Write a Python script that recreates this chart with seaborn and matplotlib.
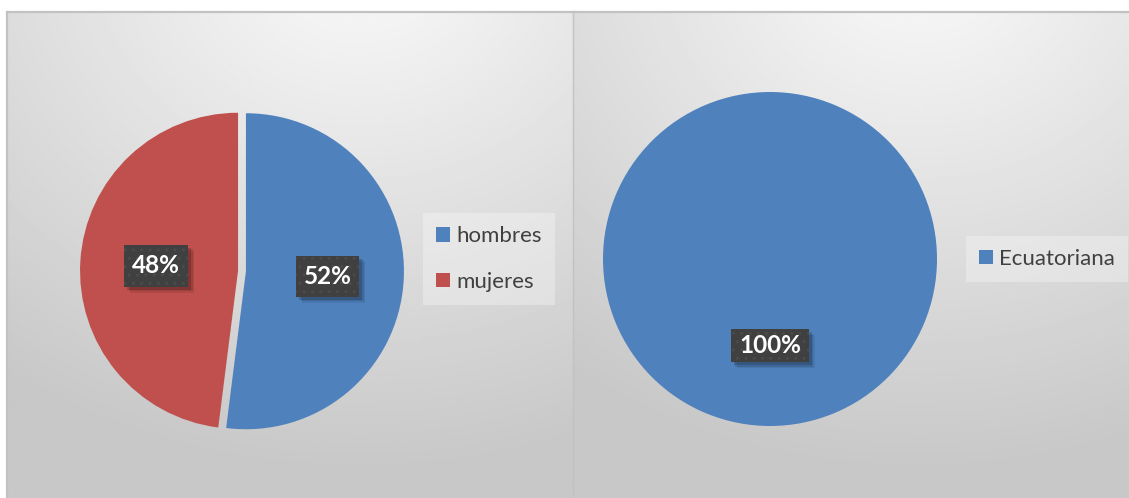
import numpy as np
import matplotlib
matplotlib.use("Agg")
import matplotlib.pyplot as plt
import seaborn as sns
from matplotlib.patches import Patch, Rectangle
from matplotlib.transforms import ScaledTranslation

# Distribution by sex and by nationality (percent)
sexo = ["hombres", "mujeres"]
sexo_pct = [52, 48]
nacionalidad = ["Ecuatoriana"]
nacionalidad_pct = [100]

sns.set_theme(style="white")
plt.rcParams["font.family"] = ["Lato", "DejaVu Sans"]

palette = {"hombres": "#4F81BD", "mujeres": "#C0504D", "Ecuatoriana": "#4F81BD"}
TEXT_GRAY = "#404040"
BORDER = "#c2c2c2"

W, H = 1129, 498
fig = plt.figure(figsize=(W / 100, H / 100), dpi=100)
fig.patch.set_facecolor("white")


def px_axes(x0, y_top, w, h, **kw):
    """Axes placed with pixel coordinates measured from the top-left corner."""
    return fig.add_axes([x0 / W, (H - y_top - h) / H, w / W, h / H], **kw)


def panel(x0, x1, left_lw):
    ax = px_axes(x0, 12, x1 - x0, H - 12)
    u = np.linspace(0, 1, 400)
    v = np.linspace(0, 1, 300)
    U, V = np.meshgrid(u, v)
    d = np.sqrt((U - 0.62) ** 2 + (V + 0.12) ** 2)
    shade = np.clip(0.98 - 0.185 * d, 0.785, 1.0)
    ax.imshow(shade, cmap="gray", vmin=0, vmax=1, aspect="auto",
              interpolation="bilinear")
    ax.set_xticks([])
    ax.set_yticks([])
    for side in ("right", "bottom"):
        ax.spines[side].set_visible(False)
    ax.spines["top"].set_color(BORDER)
    ax.spines["top"].set_linewidth(1.6)
    ax.spines["left"].set_color(BORDER)
    ax.spines["left"].set_linewidth(left_lw)
    return ax


def pie_axes(cx, cy, r, lim=1.2):
    s = 2 * lim * r
    return px_axes(cx - s / 2, cy - s / 2, s, s)


def label_boxes(ax, texts, sizes):
    """Dark textured box with a soft drop shadow behind each percentage."""
    for t, (bw, bh) in zip(texts, sizes):
        x, y = t.get_position()
        base = fig.dpi_scale_trans + ScaledTranslation(x, y, ax.transData)
        wi, hi = bw / 100, bh / 100
        for k, a in ((0.06, 0.08), (0.045, 0.12), (0.03, 0.16)):
            ax.add_patch(Rectangle((-wi / 2 + k, -hi / 2 - k), wi, hi,
                                   transform=base, facecolor="black", alpha=a,
                                   lw=0, zorder=3, clip_on=False))
        ax.add_patch(Rectangle((-wi / 2, -hi / 2), wi, hi, transform=base,
                               facecolor="#404040", edgecolor="#4b4b4b",
                               hatch="..", lw=0, zorder=4, clip_on=False))
        t.set_zorder(5)


def draw_pie(ax, labels, values, explode, box_sizes, lim=1.2):
    wedges, _, autotexts = ax.pie(
        values,
        colors=[palette[k] for k in labels],
        startangle=90,
        counterclock=False,
        explode=explode,
        autopct=lambda p: f"{p:.0f}%",
        pctdistance=0.52,
        wedgeprops=dict(linewidth=0),
        textprops=dict(color="white", fontsize=17.5, fontweight="bold"),
    )
    for w in wedges:
        w.set_clip_on(False)
    ax.set_xlim(-lim, lim)
    ax.set_ylim(-lim, lim)
    ax.set_aspect("equal")
    ax.axis("off")
    label_boxes(ax, autotexts, box_sizes)


def add_legend(labels, x_left, y_center):
    handles = [Patch(facecolor=palette[k], edgecolor="none", label=k) for k in labels]
    return fig.legend(
        handles=handles,
        loc="center left",
        bbox_to_anchor=(x_left / W, 1 - y_center / H),
        bbox_transform=fig.transFigure,
        borderaxespad=0,
        fontsize=16,
        labelcolor=TEXT_GRAY,
        handlelength=0.62,
        handleheight=0.62,
        handletextpad=0.3,
        labelspacing=1.15,
        borderpad=0.58,
        frameon=True,
        fancybox=False,
        facecolor="white",
        edgecolor="none",
        framealpha=0.3,
    )


panel(7, 574, 1.6)
panel(573, W + 2, 1.0)

ax1 = pie_axes(242, 271, 158)
draw_pie(ax1, sexo, sexo_pct, [0.025, 0.025], [(63, 41), (64, 42)])
add_legend(sexo, 423, 259)

ax2 = pie_axes(770, 259, 167)
draw_pie(ax2, nacionalidad, nacionalidad_pct, None, [(78, 33)])
add_legend(nacionalidad, 966, 259)

fig.savefig("out.png", dpi=100, facecolor=fig.get_facecolor())
